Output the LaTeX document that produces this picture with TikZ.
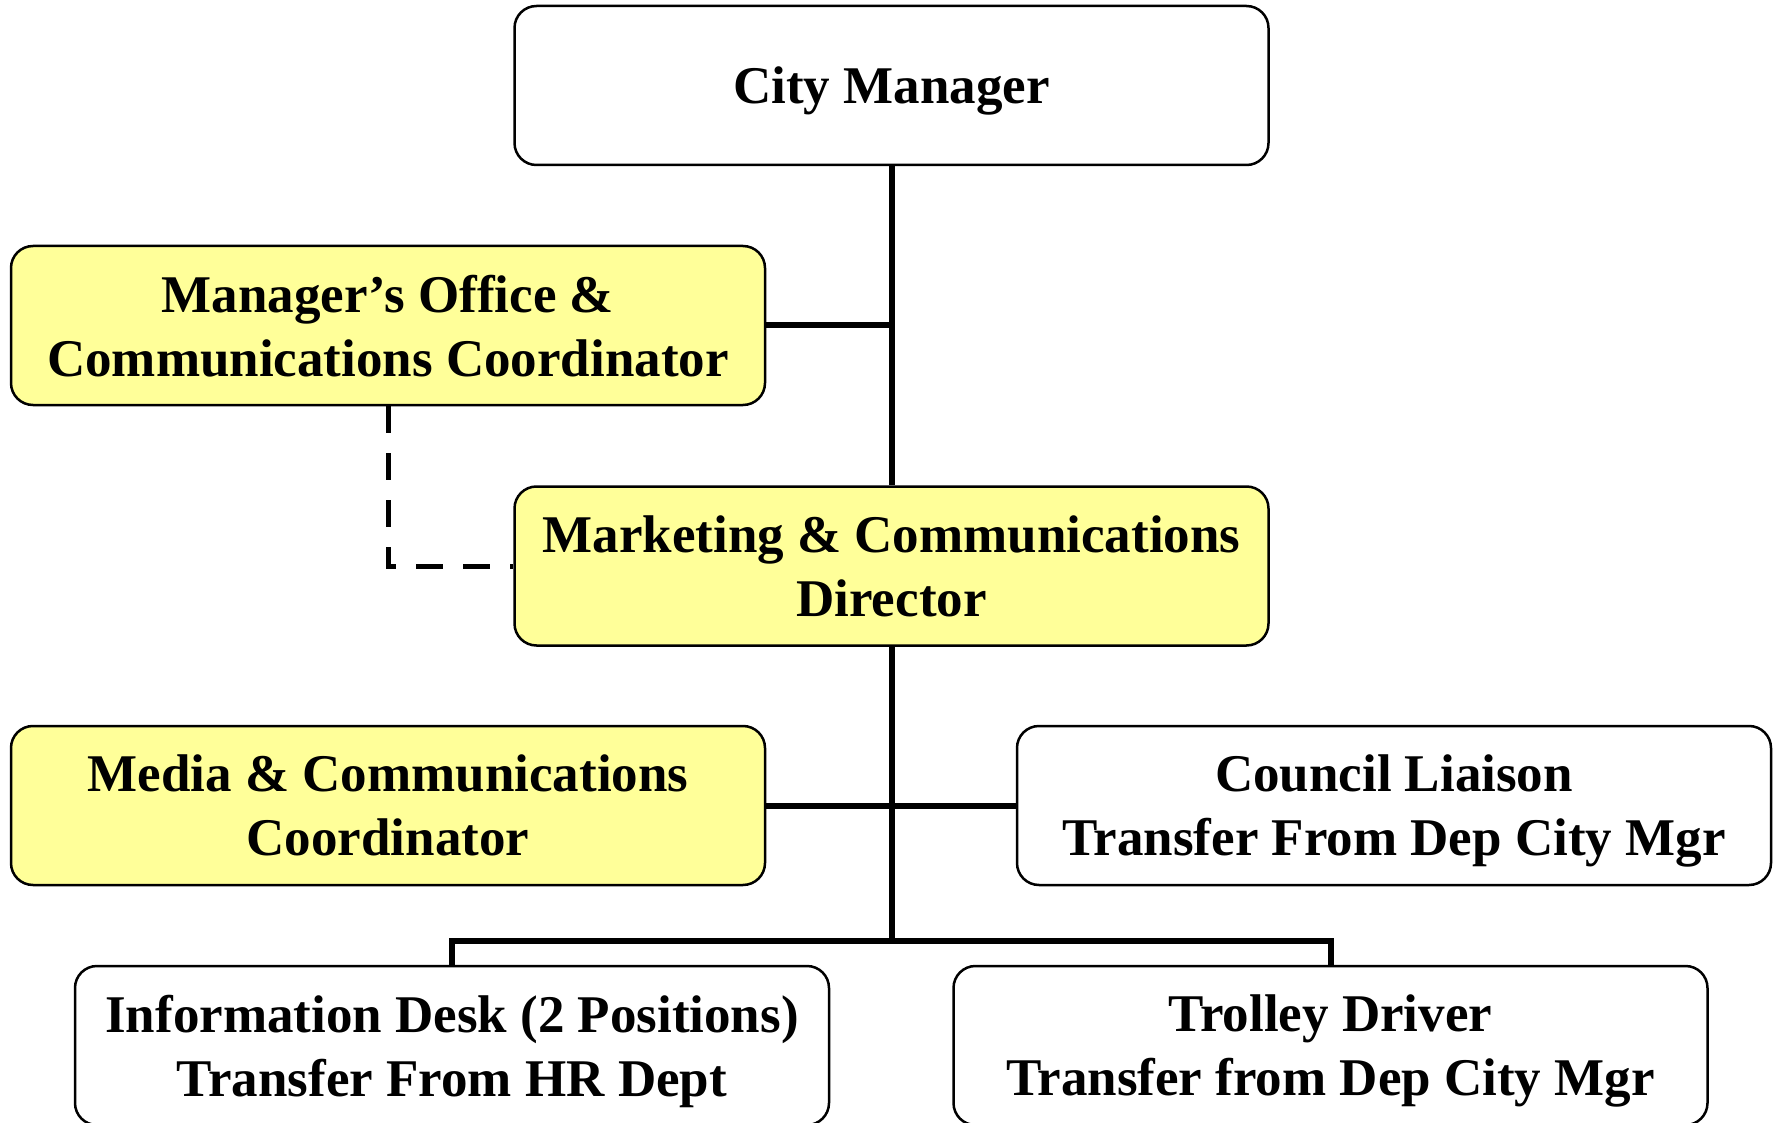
\documentclass[tikz,border=0pt]{standalone}
\usepackage{fontspec}
\setmainfont{Liberation Serif}
\definecolor{boxyellow}{HTML}{FFFF99}
\begin{document}
\begin{tikzpicture}[x=1pt,y=-1pt,
  box/.style={draw=black, line width=2.5pt, rounded corners=22pt,
    minimum width=754pt, minimum height=159pt, align=center,
    font=\bfseries\fontsize{53}{64}\selectfont, inner sep=0pt, fill=white,
    text depth=-6pt},
  ybox/.style={box, fill=boxyellow},
  link/.style={line width=6pt},
  dlink/.style={line width=5pt, dash pattern=on 27pt off 20pt}]
\useasboundingbox (0,0) rectangle (1773,1123);
\node[box]  (cm) at (891.5,85.5) {City Manager};
\node[ybox] (mo) at (388,325.5) {Manager’s Office \&\\Communications Coordinator};
\node[ybox] (md) at (891.5,566) {Marketing \& Communications\\Director};
\node[ybox] (me) at (388,805.5) {Media \& Communications\\Coordinator};
\node[box]  (cl) at (1394,805.5) {Council Liaison\\Transfer From Dep City Mgr};
\node[box]  (id) at (452,1045.5) {Information Desk (2 Positions)\\Transfer From HR Dept};
\node[box]  (td) at (1330.5,1045.5) {Trolley Driver\\Transfer from Dep City Mgr};
\coordinate (bus) at (891.5,941);
\draw[link] (cm.south) -- (md.north);
\draw[link] (mo.east) -- (mo.east -| cm.south);
\draw[link] (md.south) -- (bus);
\draw[link] (me.east) -- (cl.west);
\draw[link] (id.north) |- (bus) -| (td.north);
\draw[dlink] (mo.south) |- (md.west);
\end{tikzpicture}
\end{document}
